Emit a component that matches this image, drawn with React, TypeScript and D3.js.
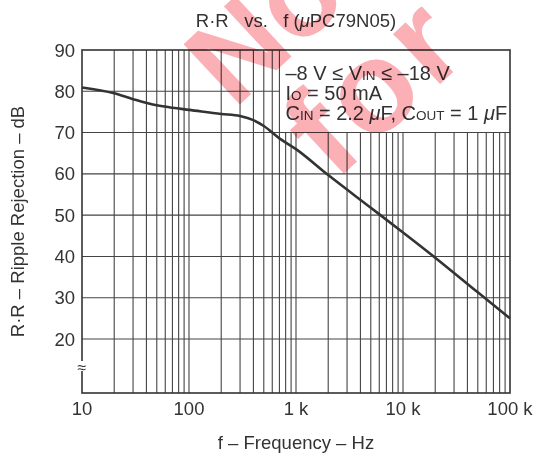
import { useEffect, useRef } from "react";
import * as d3 from "d3";

// ripple rejection curve
const freq = [10, 20, 30, 50, 70, 100, 200, 300, 400, 500, 700, 1000, 2000, 5000, 10000, 20000, 50000, 100000];
const rippleDb = [80.9, 79.5, 78.1, 76.6, 76.0, 75.5, 74.5, 74.0, 73.0, 71.6, 68.6, 66.0, 59.7, 51.8, 45.8, 39.7, 31.3, 25.0];

const yTicks = [20, 30, 40, 50, 60, 70, 80, 90];
const xTicks = [10, 100, 1000, 10000, 100000];
const xTickLabels = ["10", "100", "1 k", "10 k", "100 k"];
const decades = [10, 100, 1000, 10000];
const boxFrom = 700; // annotation box starts at this grid line
const boxDown = 70;

const FONT = "'Liberation Sans', Arial, Helvetica, sans-serif";
const INK = "#333";

const App = () => {
  const svgRef = useRef(null);

  useEffect(() => {
    const width = 536;
    const height = 459;
    const left = 82, right = 510, top = 50, bottom = 393;

    const svg = d3.select(svgRef.current);
    svg.selectAll("*").remove();
    svg.attr("width", width).attr("height", height);

    const x = d3.scaleLog().domain([10, 100000]).range([left, right]);
    const y = d3.scaleLinear().domain([20, 90]).range([339, top]);

    svg.append("rect").attr("width", width).attr("height", height).attr("fill", "#fff");

    const grid = svg.append("g").attr("stroke", "#444").attr("stroke-width", 1.1).attr("fill", "none");

    // vertical log grid
    const minor = decades.flatMap(d => d3.range(1, 10).map(m => d * m)).filter(f => f > 10);
    grid.selectAll("line.v")
      .data(minor)
      .join("line")
      .attr("x1", d => x(d)).attr("x2", d => x(d))
      .attr("y1", d => (d > boxFrom ? y(boxDown) : top))
      .attr("y2", bottom);

    // horizontal grid
    grid.selectAll("line.h")
      .data(yTicks.filter(v => v < 90))
      .join("line")
      .attr("x1", left)
      .attr("x2", d => (d > boxDown ? x(boxFrom) : right))
      .attr("y1", d => y(d)).attr("y2", d => y(d));

    // frame
    svg.append("rect")
      .attr("x", left).attr("y", top)
      .attr("width", right - left).attr("height", bottom - top)
      .attr("fill", "none").attr("stroke", "#333").attr("stroke-width", 1.6);

    // break mark on the y axis
    svg.append("rect").attr("x", left - 3).attr("y", 361).attr("width", 6).attr("height", 10).attr("fill", "#fff");
    svg.append("text")
      .attr("x", left).attr("y", 373)
      .attr("text-anchor", "middle")
      .attr("font-family", FONT).attr("font-size", 16).attr("fill", INK)
      .text("≈");

    // curve
    const curve = d3.line()
      .x((d, i) => x(freq[i]))
      .y(d => y(d))
      .curve(d3.curveMonotoneX);
    svg.append("path")
      .datum(rippleDb)
      .attr("d", curve)
      .attr("fill", "none")
      .attr("stroke", "#333")
      .attr("stroke-width", 2.6)
      .attr("stroke-linejoin", "round");

    // tick labels
    svg.append("g").selectAll("text")
      .data(yTicks)
      .join("text")
      .attr("x", 75).attr("y", d => y(d) + 6.5)
      .attr("text-anchor", "end")
      .attr("font-family", FONT).attr("font-size", 18.5).attr("fill", INK)
      .text(d => d);

    svg.append("g").selectAll("text")
      .data(xTicks)
      .join("text")
      .attr("x", d => x(d)).attr("y", 415)
      .attr("text-anchor", "middle")
      .attr("font-family", FONT).attr("font-size", 18.5).attr("fill", INK)
      .text((d, i) => xTickLabels[i]);

    // title and axis titles
    const title = svg.append("text")
      .attr("x", (left + right) / 2).attr("y", 27)
      .attr("text-anchor", "middle")
      .attr("font-family", FONT).attr("font-size", 18.5).attr("fill", INK)
      .style("white-space", "pre");
    title.append("tspan").text("R·R   vs.   f (");
    title.append("tspan").attr("font-style", "italic").text("μ");
    title.append("tspan").text("PC79N05)");

    svg.append("text")
      .attr("x", (left + right) / 2).attr("y", 449)
      .attr("text-anchor", "middle")
      .attr("font-family", FONT).attr("font-size", 18.5).attr("fill", INK)
      .text("f – Frequency – Hz");

    svg.append("text")
      .attr("transform", `translate(24,${(top + bottom) / 2}) rotate(-90)`)
      .attr("text-anchor", "middle")
      .attr("font-family", FONT).attr("font-size", 18.5).attr("fill", INK)
      .text("R·R – Ripple Rejection – dB");

    // conditions in the top-right box
    const lines = [
      [["–8 V ≤ V", 20], ["IN", 13.5], [" ≤ –18 V", 20]],
      [["I", 20], ["O", 13.5], [" = 50 mA", 20]],
      [["C", 20], ["IN", 13.5], [" = 2.2 ", 20], ["μ", 20, true], ["F, C", 20], ["OUT", 13.5], [" = 1 ", 20], ["μ", 20, true], ["F", 20]],
    ];
    lines.forEach((parts, li) => {
      const t = svg.append("text")
        .attr("x", x(boxFrom) + 6).attr("y", 80 + li * 20)
        .attr("font-family", FONT).attr("fill", INK)
        .style("white-space", "pre");
      parts.forEach(([s, size, it]) => {
        t.append("tspan").attr("font-size", size).attr("font-style", it ? "italic" : "normal").text(s);
      });
    });

    // watermark
    const wm = svg.append("g")
      .attr("fill", "#fbb0b5")
      .attr("font-family", FONT).attr("font-weight", 700)
      .style("mix-blend-mode", "multiply");
    wm.append("text").attr("font-size", 120).attr("transform", "translate(234,110) rotate(-43)").text("Not");
    wm.append("text").attr("font-size", 130).attr("letter-spacing", 6)
      .attr("transform", "translate(335,182) rotate(-43)").text("for");
  }, []);

  return (
    <div>
      <svg ref={svgRef} style={{ position: "absolute", left: 0, top: 0 }} />
    </div>
  );
};

export default App;
